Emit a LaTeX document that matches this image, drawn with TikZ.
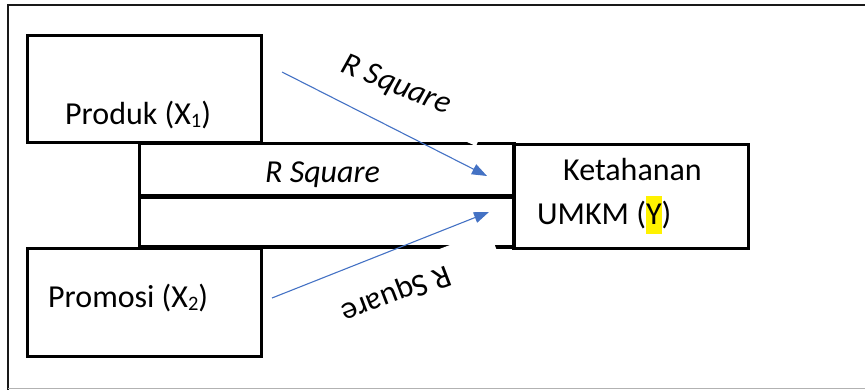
\documentclass[tikz,border=0pt]{standalone}
\usepackage{fontspec}
\setmainfont{Carlito}
\usetikzlibrary{arrows.meta}
\definecolor{arrblue}{HTML}{4472C4}
\newcommand{\subidx}[1]{\raisebox{-3pt}{\fontsize{20.5}{20.5}\selectfont #1}}
\newcommand{\hly}[1]{{\setlength{\fboxsep}{0pt}\colorbox{yellow}{\rule[-9pt]{0pt}{38pt}#1}}}
\begin{document}
\begin{tikzpicture}[x=1pt,y=-1pt,
  box/.style={draw=black,line width=3pt,rectangle,inner sep=0pt,anchor=north west},
  barbox/.style={draw=black,line width=3.5pt,rectangle,inner sep=0pt,anchor=north west},
  lbl/.style={font=\fontsize{32}{38}\selectfont,inner sep=0pt},
  lbli/.style={font=\fontsize{32}{38}\selectfont\itshape,inner sep=0pt},
  conn/.style={draw=arrblue,line width=1.1pt,-{Triangle[length=15pt,width=11pt]}},
  mask/.style={fill=white,draw=none}]
\useasboundingbox (0,0) rectangle (865,390);
% outer frame
\draw[line width=1.8pt,black!90] (865,5) -- (8,5) -- (8,390);
\draw[line width=1.2pt,black!30] (8,388.6) -- (865,388.6);
% bars
\node[barbox,minimum width=374.5pt,minimum height=52.5pt] (bar1) at (137.5,142) {};
\node[barbox,minimum width=374.5pt,minimum height=50pt] (bar2) at (137.5,195.5) {};
% white text-box corners cutting the bar lines
\fill[mask] (476,146) -- (448.6,133.8) -- (460.8,106.4) -- (488.2,118.6) -- cycle;
\fill[mask] (489,230) -- (433,251.5) -- (443.7,279.5) -- (499.7,258) -- cycle;
% boxes
\node[box,minimum width=234pt,minimum height=107pt] (prod) at (26,34) {};
\node[box,minimum width=234pt,minimum height=108pt] (prom) at (26,247) {};
\node[box,minimum width=235pt,minimum height=104pt] (ket) at (512,143) {};
% texts
\node[lbl,anchor=base west] (tprod) at (65,125) {Produk (X\subidx{1})};
\node[lbl,anchor=base west] (tprom) at (48,307) {Promosi (X\subidx{2})};
\node[lbl,anchor=base west] (tket) at (563,181) {Ketahanan};
\node[lbl,anchor=base west] (tumkm) at (537,225) {UMKM (\hly{Y})};
\node[lbli,anchor=base west] (trs) at (265,183) {R Square};
\node[lbli,rotate=-22] (trs1) at (396,86) {R Square};
\node[lbl,rotate=201] (trs2) at (396,293) {R Square};
% arrows
\coordinate (a1s) at (282,72);
\coordinate (a1e) at (487,176);
\coordinate (a2s) at (272,298);
\coordinate (a2e) at (489,212);
\draw[conn] (a1s) -- (a1e);
\draw[conn] (a2s) -- (a2e);
\end{tikzpicture}
\end{document}
